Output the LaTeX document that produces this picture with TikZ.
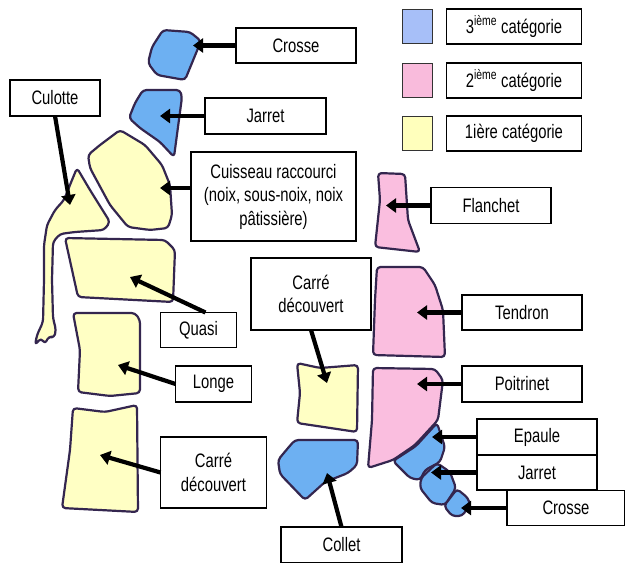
\documentclass[tikz,border=0pt]{standalone}
\usepackage{fontspec}
\setmainfont[FakeStretch=0.76]{Liberation Sans}
\usetikzlibrary{arrows.meta, positioning}
\definecolor{cutline}{HTML}{34264F}
\definecolor{blueCut}{HTML}{6DB0F2}
\definecolor{pinkCut}{HTML}{FABEDF}
\definecolor{yellowCut}{HTML}{FFFFC4}
\definecolor{blueKey}{HTML}{A7BFF8}
\definecolor{pinkKey}{HTML}{F9BBDC}
\definecolor{yellowKey}{HTML}{FFFFBC}
\tikzset{
  tag/.style={
    rectangle, draw=black, line width=1.1pt, fill=white,
    inner sep=0pt, outer sep=0pt,
    minimum width=120pt, minimum height=35pt,
    align=center, font=\fontsize{19.5}{23.5}\selectfont
  },
  swatch/.style={
    rectangle, draw=black!80, line width=1pt, fill=#1,
    minimum width=30pt, minimum height=34pt, inner sep=0pt
  },
  cut/.style={
    draw=cutline, line width=2.2pt, line join=round,
    rounded corners=3.5pt, fill=#1
  },
  arrow/.style={-{Triangle[length=10pt,width=14pt]}, line width=4.2pt, draw=black}
}

\begin{document}
\begin{tikzpicture}[x=1pt, y=-1pt]
  \useasboundingbox (0,0) rectangle (625,563);

  % hind quarter
  \draw[cut=blueCut] (163,30) -- (190,32) -- (201,41) -- (185,80) -- (157,75) -- (148,63) -- (152,47) -- cycle;
  \draw[cut=blueCut] (143,90) -- (180,90) -- (182,97) -- (174,157) -- (160,142) -- (140,128) -- (129,118) -- (135,103) -- cycle;
  \draw[cut=yellowCut] (120,130) -- (145,145) -- (162,165) -- (170,185) -- (172,215) -- (168,228) -- (150,230) -- (128,227) -- (110,205) -- (90,168) -- (88,155) -- (100,145) -- cycle;
  \draw[cut=yellowCut] (77,168) -- (90,190) -- (110,222) -- (104,230) -- (75,232) -- (60,234) -- (53,242) -- (52,280)
    -- (53,318) -- (56,330) -- (54,338) -- (49,336) -- (45,344) -- (41,338) -- (35,345) -- (37,335) -- (43,322)
    -- (44,280) -- (44,245) -- (47,225) -- (55,210) -- (64,200) -- (72,180) -- cycle;
  \draw[cut=yellowCut] (65,238) -- (165,240) -- (175,250) -- (173,302) -- (78,297) -- cycle;
  \draw[cut=yellowCut] (73,313) -- (135,313) -- (140,320) -- (140,393) -- (110,396) -- (78,392) -- (80,350) -- cycle;
  \draw[cut=yellowCut] (73,408) -- (105,412) -- (137,405) -- (138,512) -- (62,508) -- (70,450) -- cycle;

  % fore quarter
  \draw[cut=yellowCut] (297,363) -- (320,368) -- (358,365) -- (357,432) -- (297,423) -- (300,393) -- cycle;
  \draw[cut=blueCut] (295,440) -- (358,440) -- (357,465) -- (348,473) -- (325,482) -- (305,500) -- (280,474) -- (278,460) -- (288,448) -- cycle;
  \draw[cut=pinkCut] (378,173) -- (405,174) -- (408,220) -- (420,252) -- (375,247) -- (380,200) -- cycle;
  \draw[cut=pinkCut] (377,267) -- (423,267) -- (435,285) -- (443,310) -- (445,357) -- (373,355) -- (375,300) -- cycle;
  \draw[cut=pinkCut] (373,368) -- (435,369) -- (443,380) -- (438,420) -- (415,445) -- (393,460) -- (368,468) -- (372,420) -- cycle;
  \draw[cut=blueCut] (393,461) -- (416,446) -- (437,423) -- (445,447) -- (440,462) -- (425,470) -- (420,480) -- (410,478) -- cycle;
  \draw[cut=blueCut] (421,478) -- (437,463) -- (450,472) -- (456,488) -- (445,505) -- (432,503) -- (420,488) -- cycle;
  \draw[cut=blueCut] (444,506) -- (457,489) -- (468,498) -- (470,505) -- (462,516) -- (452,516) -- cycle;

  % legend
  \node[swatch=blueKey] (key3) at (417,26.5) {};
  \node[swatch=pinkKey, below=19pt of key3] (key2) {};
  \node[swatch=yellowKey, below=18pt of key2] (key1) {};
  \node[tag, minimum width=135pt, right=14pt of key3] (legend3) {3\textsuperscript{ième} catégorie};
  \node[tag, minimum width=135pt, right=14pt of key2] (legend2) {2\textsuperscript{ième} catégorie};
  \node[tag, minimum width=135pt, right=14pt of key1] (legend1) {1ière catégorie};

  % labels
  \node[tag] (crosseA) at (296,45.5) {Crosse};
  \node[tag, minimum width=121pt, minimum height=36pt] (jarretA) at (265.5,116) {Jarret};
  \node[tag, minimum width=165pt, minimum height=89pt] (cuisseau) at (273.5,196.5)
    {Cuisseau raccourci\\(noix, sous-noix, noix\\pâtissière)};
  \node[tag, minimum width=90pt, minimum height=36pt] (culotte) at (55,98) {Culotte};
  \node[tag, minimum height=36pt] (flanchet) at (491,205.5) {Flanchet};
  \node[tag, minimum height=72pt] (carreB) at (311,294) {Carré\\découvert};
  \node[tag] (tendron) at (522,312.5) {Tendron};
  \node[tag, minimum width=76pt] (quasi) at (198.5,330) {Quasi};
  \node[tag, minimum width=76pt, minimum height=36pt] (longe) at (213.5,384) {Longe};
  \node[tag, minimum height=36pt] (poitrinet) at (522,384) {Poitrinet};
  \node[tag, minimum height=36pt] (epaule) at (537,437) {Epaule};
  \node[tag, below=0pt of epaule] (jarretB) {Jarret};
  \node[tag, minimum width=118pt] (crosseB) at (566,508) {Crosse};
  \node[tag, minimum width=106pt, minimum height=71pt] (carreA) at (213.5,472.5) {Carré\\découvert};
  \node[tag, minimum width=121pt, minimum height=36pt] (collet) at (341.5,545) {Collet};

  % arrow tips inside the cuts
  \coordinate (crosseATip) at (193,45.5);
  \coordinate (jarretATip) at (160,116);
  \coordinate (cuisseauTip) at (160,188);
  \coordinate (culotteTip) at (70,205);
  \coordinate (flanchetTip) at (386,205.5);
  \coordinate (quasiTip) at (130,277);
  \coordinate (longeTip) at (118,365);
  \coordinate (carreATip) at (100,455);
  \coordinate (carreBTip) at (327,383);
  \coordinate (colletTip) at (327,473);
  \coordinate (tendronTip) at (417,312.5);
  \coordinate (poitrinetTip) at (417,384);
  \coordinate (epauleTip) at (432,437);
  \coordinate (jarretBTip) at (431,472.5);
  \coordinate (crosseBTip) at (461,508);

  \draw[arrow] (crosseA) -- (crosseATip);
  \draw[arrow] (jarretA) -- (jarretATip);
  \draw[arrow] (cuisseau.west |- cuisseauTip) -- (cuisseauTip);
  \draw[arrow] (culotte.south) -- (culotteTip);
  \draw[arrow] (flanchet) -- (flanchetTip);
  \draw[arrow] ([xshift=7pt]quasi.north) -- (quasiTip);
  \draw[arrow] (longe.west) -- (longeTip);
  \draw[arrow] (carreA.west) -- (carreATip);
  \draw[arrow] (carreB.south) -- (carreBTip);
  \draw[arrow] (collet.north) -- (colletTip);
  \draw[arrow] (tendron) -- (tendronTip);
  \draw[arrow] (poitrinet) -- (poitrinetTip);
  \draw[arrow] (epaule) -- (epauleTip);
  \draw[arrow] (jarretB) -- (jarretBTip);
  \draw[arrow] (crosseB) -- (crosseBTip);
\end{tikzpicture}
\end{document}
